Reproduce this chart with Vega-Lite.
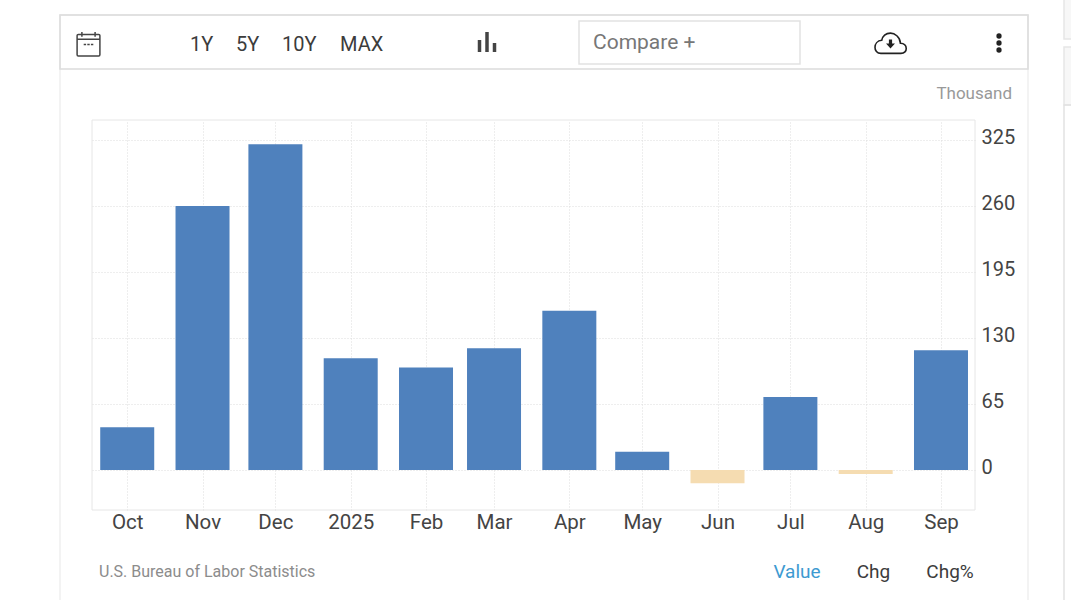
{
"$schema":"https://vega.github.io/schema/vega-lite/v6.json",
"width":1071,"height":600,"padding":0,"autosize":{"type":"none"},"background":"white",
"config":{"view":{"stroke":null},"font":"Roboto","text":{"font":"Roboto"}},
"resolve":{"scale":{"x":"independent","y":"independent"},"axis":{"x":"independent","y":"independent"}},
"datasets":{"jobs":[
 {"date":"2024-10-01","value":42},{"date":"2024-11-01","value":260},{"date":"2024-12-01","value":321},
 {"date":"2025-01-01","value":110},{"date":"2025-02-01","value":101},{"date":"2025-03-01","value":120},
 {"date":"2025-04-01","value":157},{"date":"2025-05-01","value":18},{"date":"2025-06-01","value":-13},
 {"date":"2025-07-01","value":72},{"date":"2025-08-01","value":-4},{"date":"2025-09-01","value":118}]},
"layer":[
{"data":{"values":[{"box":"outer"}]},"mark":{"type":"rect","fillOpacity":0,"stroke":"#f0f0f0","strokeWidth":1.5},
 "encoding":{"x":{"field":"box","type":"nominal","axis":null,"scale":{"type":"band","range":[60,1028],"paddingInner":0,"paddingOuter":0}},
 "y":{"field":"box","type":"nominal","axis":null,"scale":{"type":"band","range":[15,660],"paddingInner":0,"paddingOuter":0}}}},
{"data":{"values":[{"box":"side a"}]},"mark":{"type":"rect","fill":"#f7f7f7","stroke":"#e6e6e6","strokeWidth":1.5},
 "encoding":{"x":{"field":"box","type":"nominal","axis":null,"scale":{"type":"band","range":[1064,1090],"paddingInner":0,"paddingOuter":0}},
 "y":{"field":"box","type":"nominal","axis":null,"scale":{"type":"band","range":[-10,39],"paddingInner":0,"paddingOuter":0}}}},
{"data":{"values":[{"box":"side b"}]},"mark":{"type":"rect","fill":"#f7f7f7","stroke":"#e6e6e6","strokeWidth":1.5},
 "encoding":{"x":{"field":"box","type":"nominal","axis":null,"scale":{"type":"band","range":[1064,1090],"paddingInner":0,"paddingOuter":0}},
 "y":{"field":"box","type":"nominal","axis":null,"scale":{"type":"band","range":[47,105],"paddingInner":0,"paddingOuter":0}}}},
{"data":{"values":[{"box":"side c"}]},"mark":{"type":"rect","fillOpacity":0,"stroke":"#e2e2e2","strokeWidth":1.5},
 "encoding":{"x":{"field":"box","type":"nominal","axis":null,"scale":{"type":"band","range":[1064,1090],"paddingInner":0,"paddingOuter":0}},
 "y":{"field":"box","type":"nominal","axis":null,"scale":{"type":"band","range":[105,660],"paddingInner":0,"paddingOuter":0}}}},
{"data":{"values":[{"box":"toolbar"}]},"mark":{"type":"rect","fillOpacity":0,"stroke":"#dcdcdc","strokeWidth":1.5},
 "encoding":{"x":{"field":"box","type":"nominal","axis":null,"scale":{"type":"band","range":[60,1028],"paddingInner":0,"paddingOuter":0}},
 "y":{"field":"box","type":"nominal","axis":null,"scale":{"type":"band","range":[15,69],"paddingInner":0,"paddingOuter":0}}}},
{"data":{"values":[{"box":"compare"}]},"mark":{"type":"rect","fillOpacity":0,"stroke":"#e2e2e2","strokeWidth":1.5},
 "encoding":{"x":{"field":"box","type":"nominal","axis":null,"scale":{"type":"band","range":[579,800],"paddingInner":0,"paddingOuter":0}},
 "y":{"field":"box","type":"nominal","axis":null,"scale":{"type":"band","range":[21,64],"paddingInner":0,"paddingOuter":0}}}},
{"data":{"values":[{"box":"plot"}]},"mark":{"type":"rect","fillOpacity":0,"stroke":"#e6e6e6","strokeWidth":1},
 "encoding":{"x":{"field":"box","type":"nominal","axis":null,"scale":{"type":"band","range":[92,975],"paddingInner":0,"paddingOuter":0}},
 "y":{"field":"box","type":"nominal","axis":null,"scale":{"type":"band","range":[120,510],"paddingInner":0,"paddingOuter":0}}}},
{"data":{"name":"jobs"},"mark":{"type":"bar","size":54,"opacity":0},
 "encoding":{
 "x":{"field":"date","type":"temporal","scale":{"type":"utc","padding":0,"domain":["2024-09-16T12:00:00Z","2025-09-15T00:00:00Z"],"range":[92,975]},
  "axis":{"orient":"top","title":null,"tickCount":{"interval":"month","step":1},"labels":false,"ticks":false,"domain":false,"grid":true,"gridColor":"#dcdcdc","gridDash":[1,2]}},
 "y":{"field":"value","type":"quantitative","scale":{"domain":[-39.4,344.8],"nice":false,"zero":false,"range":[510,120]},
  "axis":{"orient":"left","title":null,"values":[0,65,130,195,260,325],"labels":false,"ticks":false,"domain":false,"grid":true,"gridColor":"#dcdcdc","gridDash":[1,2]}}}},
{"data":{"name":"jobs"},"mark":{"type":"bar","size":54},
 "encoding":{
 "x":{"field":"date","type":"temporal","scale":{"type":"utc","padding":0,"domain":["2024-09-16T12:00:00Z","2025-09-15T00:00:00Z"],"range":[92,975]},
  "axis":{"orient":"bottom","offset":-90,"title":null,"tickCount":{"interval":"month","step":1},"labelExpr":"utcmonth(datum.value)==0?'2025':utcFormat(datum.value,'%b')","labelFont":"Roboto","labelFontSize":20.5,"labelColor":"#444","labelPadding":2,"labelFlush":false,"labelOverlap":false,"ticks":false,"domain":false,"grid":false}},
 "y":{"field":"value","type":"quantitative","scale":{"domain":[-39.4,344.8],"nice":false,"zero":false,"range":[510,120]},
  "axis":{"orient":"right","offset":-96,"title":null,"values":[0,65,130,195,260,325],"labelFont":"Roboto","labelFontSize":20,"labelColor":"#444","labelPadding":6,"labelOffset":-3,"ticks":false,"domain":false,"grid":false}},
 "color":{"condition":{"test":"datum.value<0","value":"#f5dcb1"},"value":"#4f81bd"}}},
{"data":{"values":[{"label":"1Y"},{"label":"5Y"},{"label":"10Y"}]},"mark":{"type":"text","align":"left","baseline":"middle","fontSize":20,"font":"Roboto","color":"#3c3c3c"},
 "encoding":{"text":{"field":"label"},"x":{"field":"label","type":"nominal","sort":null,"axis":null,"scale":{"type":"point","padding":0,"range":[190,282]}},
 "y":{"field":"label","type":"nominal","axis":null,"scale":{"type":"point","range":[45,45]}}}},
{"data":{"values":[{"label":"MAX"}]},"mark":{"type":"text","align":"left","baseline":"middle","fontSize":20,"font":"Roboto","color":"#3c3c3c"},
 "encoding":{"text":{"field":"label"},"x":{"field":"label","type":"nominal","axis":null,"scale":{"type":"point","padding":0,"range":[340,340]}},
 "y":{"field":"label","type":"nominal","axis":null,"scale":{"type":"point","range":[45,45]}}}},
{"data":{"values":[{"label":"Compare +"}]},"mark":{"type":"text","align":"left","baseline":"middle","fontSize":21,"font":"Roboto","color":"#777"},
 "encoding":{"text":{"field":"label"},"x":{"field":"label","type":"nominal","axis":null,"scale":{"type":"point","padding":0,"range":[593,593]}},
 "y":{"field":"label","type":"nominal","axis":null,"scale":{"type":"point","range":[43,43]}}}},
{"data":{"values":[{"label":"Thousand"}]},"mark":{"type":"text","align":"right","baseline":"middle","fontSize":17,"font":"Roboto","color":"#999"},
 "encoding":{"text":{"field":"label"},"x":{"field":"label","type":"nominal","axis":null,"scale":{"type":"point","padding":0,"range":[1012,1012]}},
 "y":{"field":"label","type":"nominal","axis":null,"scale":{"type":"point","range":[94,94]}}}},
{"data":{"values":[{"label":"U.S. Bureau of Labor Statistics"}]},"mark":{"type":"text","align":"left","baseline":"middle","fontSize":16,"font":"Roboto","color":"#8c8c8c"},
 "encoding":{"text":{"field":"label"},"x":{"field":"label","type":"nominal","axis":null,"scale":{"type":"point","padding":0,"range":[99,99]}},
 "y":{"field":"label","type":"nominal","axis":null,"scale":{"type":"point","range":[572,572]}}}},
{"data":{"values":[{"label":"Value"},{"label":"Chg"},{"label":"Chg%"}]},"mark":{"type":"text","align":"center","baseline":"middle","fontSize":19,"font":"Roboto"},
 "encoding":{"text":{"field":"label"},"x":{"field":"label","type":"nominal","sort":null,"axis":null,"scale":{"type":"point","padding":0,"range":[797,950]}},
 "y":{"field":"label","type":"nominal","axis":null,"scale":{"type":"point","range":[572,572]}},
 "color":{"condition":{"test":"datum.label==='Value'","value":"#3d9ad1"},"value":"#3c3c3c"}}},
{"data":{"values":[{"bar":"a","h":12},{"bar":"b","h":20},{"bar":"c","h":9}]},"mark":{"type":"bar","size":3.5,"color":"#444"},
 "encoding":{"x":{"field":"bar","type":"nominal","axis":null,"scale":{"type":"point","padding":0,"range":[479.5,494.5]}},
 "y":{"field":"h","type":"quantitative","axis":null,"scale":{"domain":[0,20],"range":[52,32]}}}},
{"data":{"values":[{"dot":"a","icon":"menu"},{"dot":"b","icon":"menu"},{"dot":"c","icon":"menu"}]},"mark":{"type":"point","filled":true,"size":28,"color":"#222","opacity":1},
 "encoding":{"x":{"field":"icon","type":"nominal","axis":null,"scale":{"type":"point","range":[999,999]}},"y":{"field":"dot","type":"nominal","axis":null,"scale":{"type":"point","padding":0,"range":[36,50]}}}},
{"data":{"values":[{"icon":"calendar"}]},"mark":{"type":"point","size":576,"filled":false,"stroke":"#444","strokeWidth":1.5,"opacity":1,"shape":"M-0.85,-0.8H0.85Q0.95,-0.8 0.95,-0.7V0.9Q0.95,1 0.85,1H-0.85Q-0.95,1 -0.95,0.9V-0.7Q-0.95,-0.8 -0.85,-0.8Z M-0.95,-0.4H0.95 M-0.55,-1V-0.6 M0.55,-1V-0.6 M-0.4,0.05H-0.2 M-0.1,0.05H0.1 M0.2,0.05H0.4"},
 "encoding":{"x":{"field":"icon","type":"nominal","axis":null,"scale":{"type":"point","range":[88.5,88.5]}},
 "y":{"field":"icon","type":"nominal","axis":null,"scale":{"type":"point","range":[44,44]}}}},
{"data":{"values":[{"icon":"cloud"}]},"mark":{"type":"point","size":1024,"filled":false,"stroke":"#222","strokeWidth":1.6,"opacity":1,"shape":"M-0.6,0.62H0.65C1.1,0.62 1.1,0 0.62,-0.02C0.6,-0.42 0.25,-0.65 0,-0.65C-0.3,-0.65 -0.5,-0.45 -0.55,-0.2C-1.1,-0.15 -1.1,0.62 -0.6,0.62Z"},
 "encoding":{"x":{"field":"icon","type":"nominal","axis":null,"scale":{"type":"point","range":[890.5,890.5]}},
 "y":{"field":"icon","type":"nominal","axis":null,"scale":{"type":"point","range":[43.5,43.5]}}}},
{"data":{"values":[{"icon":"arrow"}]},"mark":{"type":"point","size":1024,"filled":true,"color":"#222","opacity":1,"shape":"M-0.1,-0.25H0.1V0H0.28L0,0.32L-0.28,0H-0.1Z"},
 "encoding":{"x":{"field":"icon","type":"nominal","axis":null,"scale":{"type":"point","range":[890.5,890.5]}},
 "y":{"field":"icon","type":"nominal","axis":null,"scale":{"type":"point","range":[43.5,43.5]}}}}
]
}
